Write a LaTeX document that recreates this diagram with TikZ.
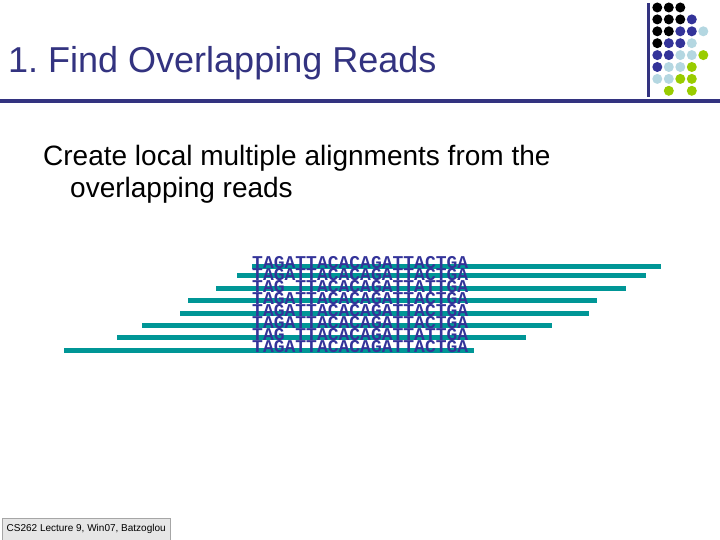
\documentclass[tikz,border=0pt]{standalone}
\usepackage{fontspec}
\setmainfont{Liberation Sans}
\setmonofont{Liberation Mono}
\usetikzlibrary{positioning}
\definecolor{slideblue}{RGB}{51,51,128}
\definecolor{readblue}{RGB}{51,51,153}
\definecolor{readteal}{RGB}{0,150,150}
\definecolor{dotblue}{RGB}{51,51,153}
\definecolor{dotlight}{RGB}{180,215,225}
\definecolor{dotgreen}{RGB}{153,204,0}
\definecolor{footgray}{RGB}{230,230,230}
\frenchspacing

\begin{document}
\begin{tikzpicture}[x=1pt, y=-1pt,
  txt/.style={anchor=base west, inner sep=0pt},
  read/.style={txt, font=\fontsize{18}{18}\ttfamily\bfseries, text=readblue},
  readbar/.style={draw=readteal, line width=5pt},
  spot/.style={circle, inner sep=0pt, minimum size=10pt}]
  \useasboundingbox (0,0) rectangle (720,540);
  % title and rules
  \node[txt, font=\fontsize{36}{36}\selectfont, text=slideblue] (title) at (8,73) {1. Find Overlapping Reads};
  \fill[slideblue] (0,99.5) rectangle (720,103);
  \fill[slideblue] (646.5,3) rectangle (649.5,97);
  % dots
  \foreach \r/\lst in {1/{1/black,2/black,3/black},
                       2/{1/black,2/black,3/black,4/dotblue},
                       3/{1/black,2/black,3/dotblue,4/dotblue,5/dotlight},
                       4/{1/black,2/dotblue,3/dotblue,4/dotlight},
                       5/{1/dotblue,2/dotblue,3/dotlight,4/dotlight,5/dotgreen},
                       6/{1/dotblue,2/dotlight,3/dotlight,4/dotgreen},
                       7/{1/dotlight,2/dotlight,3/dotgreen,4/dotgreen},
                       8/{2/dotgreen,4/dotgreen}}
    \foreach \c/\col in \lst
      \node[spot, fill=\col] (spot-\r-\c) at ({657.3+11.5*(\c-1)}, {7.5+11.9*(\r-1)}) {};
  % body text
  \node[txt, font=\fontsize{28}{32}\selectfont] (body1) at (43,166) {Create local multiple alignments from the};
  \node[txt, font=\fontsize{28}{32}\selectfont] (body2) at (70,198) {overlapping reads};
  % reads
  \foreach \i/\xa/\xb/\yb in {1/252/661/266.5, 2/237/646/275.5, 3/216/626/288.5, 4/188/597/300.5,
                              5/180/589/313.5, 6/142/552/325.5, 7/117/526/337.5, 8/64/474/350.5}
    \draw[readbar] (\xa,\yb) -- (\xb,\yb);
  \foreach \i/\seq in {1/TAGATTACACAGATTACTGA, 2/TAGATTACACAGATTACTGA, 3/TAG TTACACAGATTATTGA,
                       4/TAGATTACACAGATTACTGA, 5/TAGATTACACAGATTACTGA, 6/TAGATTACACAGATTACTGA,
                       7/TAG TTACACAGATTATTGA, 8/TAGATTACACAGATTACTGA}
    \node[read] (read\i) at (252,{256+12*\i}) {\seq};
  % footer
  \node[draw=gray!70, fill=footgray, font=\fontsize{10}{10}\selectfont, inner xsep=4.5pt,
        minimum height=22pt, anchor=south west] (footer) at (2,540) {CS262 Lecture 9, Win07, Batzoglou};
\end{tikzpicture}
\end{document}
